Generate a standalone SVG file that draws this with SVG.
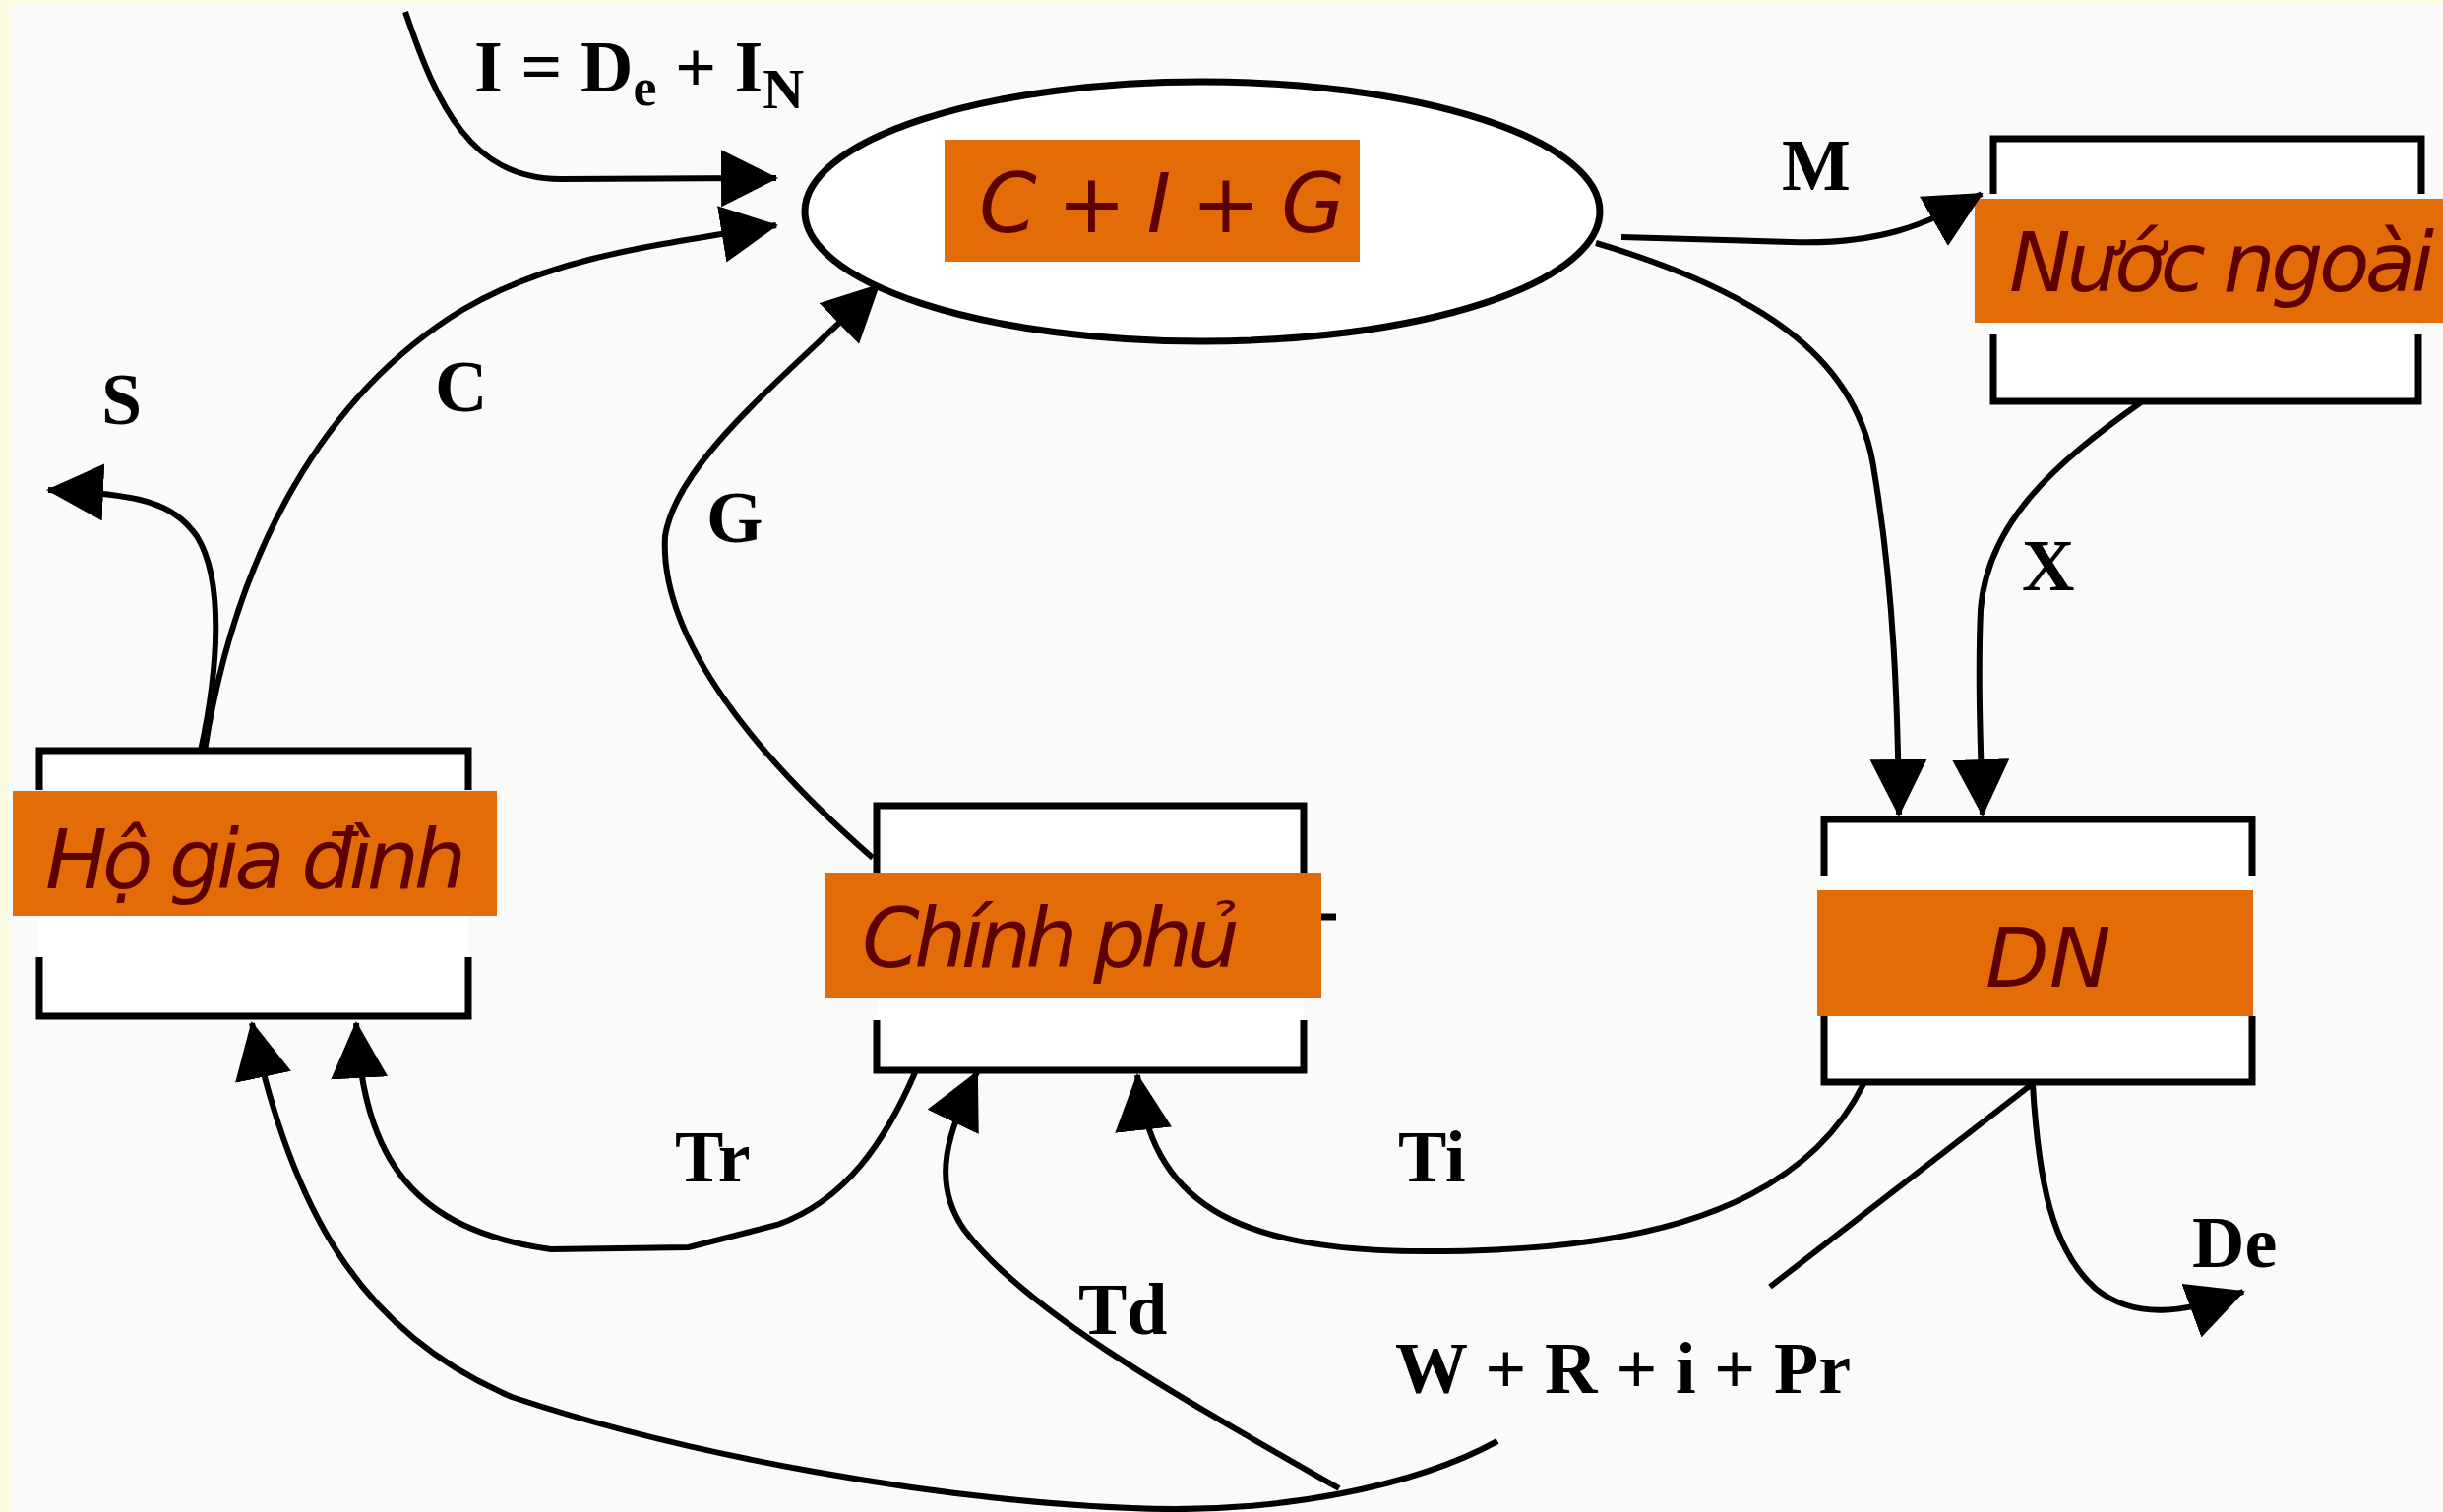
<svg xmlns="http://www.w3.org/2000/svg" width="2483" height="1537" viewBox="0 0 2483 1537">
  <style>
    .box{fill:#ffffff;stroke:none}
    .edge{fill:none;stroke:#000;stroke-width:7;stroke-linejoin:miter}
    .conn{fill:none;stroke:#000;stroke-width:6}
    .band{fill:#E36C09}
    .ntext{font-family:"DejaVu Sans",Verdana,sans-serif;font-style:italic;font-size:84px;fill:#5c0000}
    .lbl{font-family:"Liberation Serif","Times New Roman",serif;font-weight:bold;font-size:74px;fill:#000}
  </style>
  <defs>
    <marker id="ah" markerUnits="userSpaceOnUse" markerWidth="58" markerHeight="58" viewBox="0 0 58 58" refX="56" refY="29" orient="auto">
      <path d="M0,0 L58,29 L0,58 Z" fill="#000"/>
    </marker>
  </defs>

  <rect x="0" y="0" width="2483" height="1537" fill="#fafaf8"/>
  <rect x="0" y="0" width="9" height="1537" fill="#fbfbe2"/>
  <rect x="0" y="0" width="2483" height="5" fill="#fbfbe2"/>

  <g id="node-cig">
    <ellipse cx="1222" cy="215" rx="404" ry="132" fill="#ffffff" stroke="#000" stroke-width="7"/>
    <rect class="band" x="960" y="142" width="422" height="124"/>
    <text class="ntext" x="995" y="236" textLength="372">C + I + G</text>
  </g>

  <g id="node-nuoc-ngoai">
    <rect class="box" x="2026" y="141" width="435" height="267"/>
    <path class="edge" d="M2026 197 V141 H2461 V197"/>
    <path class="edge" d="M2026 340 V408 H2458 V340"/>
    <rect class="band" x="2007" y="202" width="476" height="126"/>
    <text class="ntext" x="2042" y="296" textLength="432">Nước ngoài</text>
  </g>

  <g id="node-ho-gia-dinh">
    <rect class="box" x="40" y="763" width="436" height="270"/>
    <path class="edge" d="M40 803 V763 H476 V803"/>
    <path class="edge" d="M40 973 V1033 H476 V973"/>
    <rect class="band" x="13" y="804" width="492" height="127"/>
    <text class="ntext" x="46" y="903" textLength="428">Hộ gia đình</text>
  </g>

  <g id="node-chinh-phu">
    <rect class="box" x="891" y="819" width="434" height="269"/>
    <path class="edge" d="M891 887 V819 H1325 V887"/>
    <path class="edge" d="M891 1037 V1088 H1325 V1037"/>
    <rect class="band" x="839" y="887" width="504" height="127"/>
    <path class="edge" d="M1343 932 H1358"/>
    <text class="ntext" x="876" y="983" textLength="384">Chính phủ</text>
  </g>

  <g id="node-dn">
    <rect class="box" x="1854" y="833" width="435" height="267"/>
    <path class="edge" d="M1854 890 V833 H2289 V890"/>
    <path class="edge" d="M1854 1033 V1100 H2289 V1033"/>
    <rect class="band" x="1847" y="905" width="443" height="128"/>
    <text class="ntext" x="2018" y="1003">DN</text>
  </g>

  <g id="connectors">
    <path class="conn" marker-end="url(#ah)" d="M412 12 C445 110, 480 182, 570 182 L789 181"/>
    <path class="conn" marker-end="url(#ah)" d="M208 763 C240 560, 330 400, 470 315 C560 262, 660 250, 789 229"/>
    <path class="conn" marker-end="url(#ah)" d="M204 763 C222 680, 228 590, 200 545 C175 510, 140 502, 49 498"/>
    <path class="conn" marker-end="url(#ah)" d="M887 872 C770 770, 670 650, 676 545 C688 470, 790 390, 893 290"/>
    <path class="conn" marker-end="url(#ah)" d="M1648 241 L1820 246 C1910 249, 1960 228, 2014 197"/>
    <path class="conn" marker-end="url(#ah)" d="M1622 247 C1800 300, 1890 370, 1905 480 C1925 600, 1929 720, 1930 828"/>
    <path class="conn" marker-end="url(#ah)" d="M2176 409 C2090 470, 2020 530, 2013 620 C2010 690, 2013 760, 2015 828"/>
    <path class="conn" marker-end="url(#ah)" d="M931 1088 C900 1160, 860 1220, 790 1245 L700 1268 L560 1270 C420 1250, 370 1180, 362 1040"/>
    <path class="conn" marker-end="url(#ah)" d="M1894 1102 C1820 1250, 1620 1272, 1450 1272 C1250 1272, 1170 1220, 1156 1093"/>
    <path class="conn" d="M2064 1103 L1799 1308"/>
    <path class="conn" marker-end="url(#ah)" d="M2066 1103 C2072 1200, 2085 1270, 2130 1310 C2170 1342, 2220 1335, 2280 1313"/>
    <path class="conn" marker-end="url(#ah)" d="M1522 1465 C1440 1510, 1300 1540, 1150 1533 C950 1525, 700 1480, 520 1420 C380 1360, 300 1250, 256 1040"/>
    <path class="conn" marker-end="url(#ah)" d="M1361 1513 C1180 1410, 1040 1330, 980 1250 C945 1200, 964 1150, 993 1090"/>
  </g>

  <g id="edge-labels">
    <text class="lbl" x="482" y="93">I = D<tspan font-size="54" dy="14">e</tspan><tspan dy="-14"> + I</tspan><tspan font-size="58" dy="17">N</tspan></text>
    <text class="lbl" x="1811" y="193">M</text>
    <text class="lbl" x="103" y="431">S</text>
    <text class="lbl" x="442" y="418">C</text>
    <text class="lbl" x="718" y="551">G</text>
    <text class="lbl" x="2055" y="600">X</text>
    <text class="lbl" x="686" y="1201">Tr</text>
    <text class="lbl" x="1421" y="1201">Ti</text>
    <text class="lbl" x="1096" y="1356">Td</text>
    <text class="lbl" x="1418" y="1416" textLength="463">W + R + i + Pr</text>
    <text class="lbl" x="2228" y="1288">De</text>
  </g>
</svg>
